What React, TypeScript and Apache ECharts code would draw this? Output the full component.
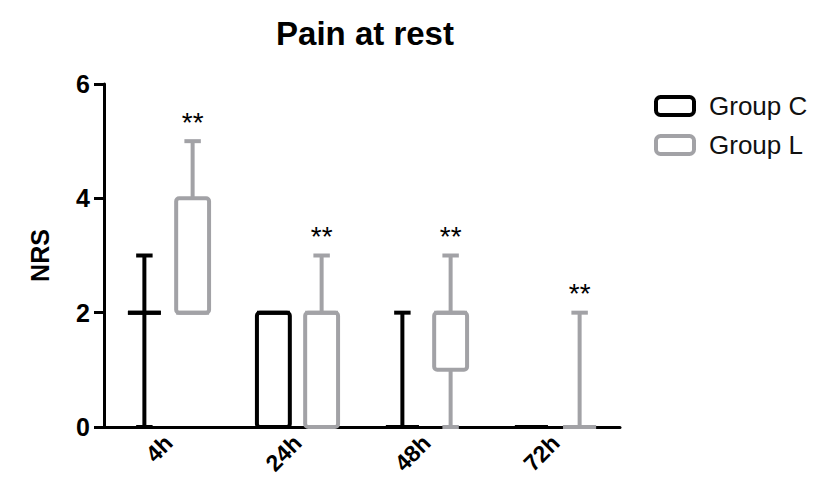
import React, { useEffect, useRef } from "react";
import * as echarts from "echarts";

const categories = ["4h", "24h", "48h", "72h"];
// [min, q1, median, q3, max]
const groupC = [
  [0, 2, 2, 2, 3],
  [0, 0, 2, 2, 2],
  [0, 0, 0, 0, 2],
  [0, 0, 0, 0, 0],
];
const groupL = [
  [2, 2, 2, 4, 5],
  [0, 0, 2, 2, 3],
  [0, 1, 2, 2, 3],
  [0, 0, 0, 0, 2],
];
const significance = ["**", "**", "**", "**"];
const seriesNames = ["Group C", "Group L"];
const yTicks = [0, 2, 4, 6];

const FONT = "'Liberation Sans', Arial, Helvetica, sans-serif";
const BLACK = "#000000";
const GRAY = "#a2a2a6";

function makeRender(color: string, side: number, withStars: boolean) {
  return (params: any, api: any) => {
    const cat = api.value(0);
    const vMin = api.value(1);
    const q1 = api.value(2);
    const med = api.value(3);
    const q3 = api.value(4);
    const vMax = api.value(5);
    const band = api.size([1, 0])[0];
    const off = side * band * 0.187;
    const boxW = band * 0.255;
    const capW = boxW * 0.5;
    const cx = api.coord([cat, 0])[0] + off;
    const y = (v: number) => api.coord([cat, v])[1];
    const lw = 4;
    const st = { stroke: color, lineWidth: lw, fill: null, lineCap: "butt" };
    const children: any[] = [];
    if (vMax > q3) {
      children.push({ type: "line", shape: { x1: cx, y1: y(q3), x2: cx, y2: y(vMax) }, style: st });
      children.push({ type: "line", shape: { x1: cx - capW / 2, y1: y(vMax), x2: cx + capW / 2, y2: y(vMax) }, style: st });
    }
    if (vMin < q1) {
      children.push({ type: "line", shape: { x1: cx, y1: y(q1), x2: cx, y2: y(vMin) }, style: st });
      children.push({ type: "line", shape: { x1: cx - capW / 2, y1: y(vMin), x2: cx + capW / 2, y2: y(vMin) }, style: st });
    }
    if (q3 > q1) {
      children.push({
        type: "rect",
        shape: { x: cx - boxW / 2, y: y(q3), width: boxW, height: y(q1) - y(q3), r: 3 },
        style: { stroke: color, lineWidth: lw, fill: "#ffffff" },
      });
    } else {
      children.push({ type: "line", shape: { x1: cx - boxW / 2, y1: y(q1), x2: cx + boxW / 2, y2: y(q1) }, style: st });
    }
    children.push({ type: "line", shape: { x1: cx - boxW / 2, y1: y(med), x2: cx + boxW / 2, y2: y(med) }, style: st });
    if (withStars) {
      const s = significance[params.dataIndex];
      if (s) {
        children.push({
          type: "text",
          x: cx,
          y: y(vMax) - 5,
          style: {
            text: s,
            fill: "#000",
            font: `28px ${FONT}`,
            align: "center",
            verticalAlign: "bottom",
          },
        });
      }
    }
    return { type: "group", children };
  };
}

export default function App() {
  const ref = useRef<HTMLDivElement>(null);
  useEffect(() => {
    if (!ref.current) return;
    const chart = echarts.init(ref.current, null, { renderer: "svg" });
    const toData = (arr: number[][]) => arr.map((d, i) => [i, ...d]);
    chart.setOption({
      animation: false,
      title: {
        text: "Pain at rest",
        left: 352,
        textAlign: "center",
        top: 4,
        textStyle: { fontFamily: FONT, fontSize: 33, fontWeight: "bold", color: "#000" },
      },
      legend: {
        orient: "vertical",
        left: 641,
        top: 80,
        itemWidth: 38,
        itemHeight: 18,
        itemGap: 13,
        textStyle: { fontFamily: FONT, fontSize: 26, color: "#111", padding: [0, 0, 0, 10] },
        data: [
          { name: seriesNames[0], icon: "roundRect", itemStyle: { color: "#fff", borderColor: BLACK, borderWidth: 4 } },
          { name: seriesNames[1], icon: "roundRect", itemStyle: { color: "#fff", borderColor: GRAY, borderWidth: 4 } },
        ],
      },
      grid: { left: 96, right: 197, top: 76, bottom: 57, containLabel: false },
      xAxis: {
        type: "category",
        data: categories,
        axisLine: { lineStyle: { color: "#000", width: 3 } },
        axisTick: { alignWithLabel: true, length: 8, lineStyle: { color: "#000", width: 3 } },
        axisLabel: {
          rotate: 45,
          margin: 12,
          fontFamily: FONT,
          fontSize: 23,
          fontWeight: "bold",
          color: "#000",
        },
      },
      yAxis: {
        type: "value",
        min: 0,
        max: 6,
        interval: 2,
        name: "NRS",
        nameLocation: "middle",
        nameGap: 52,
        nameTextStyle: { fontFamily: FONT, fontSize: 25, fontWeight: "bold", color: "#000" },
        splitLine: { show: false },
        axisLine: { show: true, lineStyle: { color: "#000", width: 3 } },
        axisTick: { show: true, length: 10, lineStyle: { color: "#000", width: 3 } },
        axisLabel: {
          margin: 14,
          fontFamily: FONT,
          fontSize: 25,
          fontWeight: "bold",
          color: "#000",
          formatter: (v: number) => (yTicks.includes(v) ? String(v) : ""),
        },
      },
      series: [
        {
          name: seriesNames[0],
          type: "custom",
          renderItem: makeRender(BLACK, -1, false),
          encode: { x: 0, y: [1, 2, 3, 4, 5] },
          data: toData(groupC),
          itemStyle: { color: BLACK },
          z: 3,
        },
        {
          name: seriesNames[1],
          type: "custom",
          renderItem: makeRender(GRAY, 1, true),
          encode: { x: 0, y: [1, 2, 3, 4, 5] },
          data: toData(groupL),
          itemStyle: { color: GRAY },
          z: 3,
        },
      ],
    });
    return () => chart.dispose();
  }, []);
  return <div ref={ref} style={{ width: 809, height: 476 }} />;
}
